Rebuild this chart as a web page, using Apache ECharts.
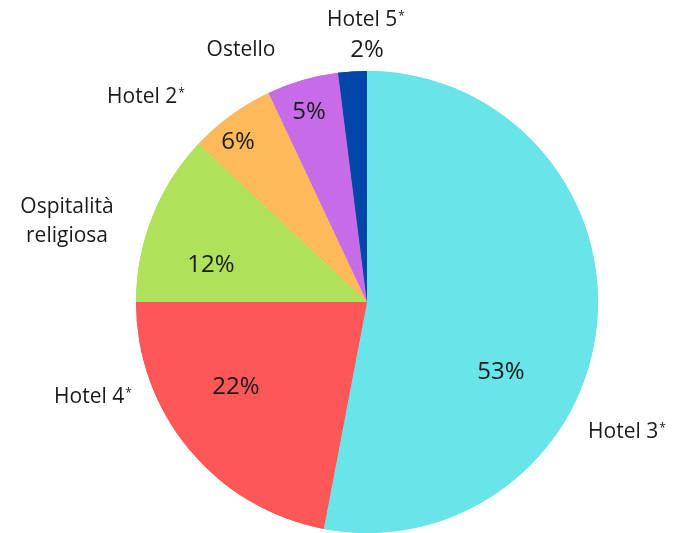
<!DOCTYPE html>
<html>
<head>
<meta charset="utf-8">
<script src="https://cdn.jsdelivr.net/npm/echarts@6/dist/echarts.min.js"></script>
<style>
  html, body { margin: 0; padding: 0; background: #fff; }
</style>
</head>
<body>
<div id="chart" style="width: 673px;height:533px;"></div>
<script>
// tipologie di struttura e quote (%)
var categories = ["Hotel 3", "Hotel 4", "Ospitalità\nreligiosa", "Hotel 2", "Ostello", "Hotel 5"];
var starred = [true, true, false, true, false, true];
var shares = [53, 22, 12, 6, 5, 2];
var colors = ["#69e4e8", "#fe5757", "#b0e15a", "#feba5a", "#c86be8", "#0046a9"];

// label anchors (layout only)
var pctPos = [[501, 372], [236, 387], [211, 265], [238, 142], [309, 112], [367, 50]];
var namePos = [[627, 432], [93, 397], [67, 222], [146, 97], [241, 50], [366, 20]];

var chart = echarts.init(document.getElementById("chart"));

var pieData = categories.map(function (c, i) {
  return { name: c, value: shares[i], itemStyle: { color: colors[i] } };
});

chart.setOption({
  animation: false,
  series: [
    {
      type: "pie",
      center: [367, 302],
      radius: 231,
      startAngle: 90,
      clockwise: true,
      silent: true,
      data: pieData,
      label: {
        show: true,
        position: "inside",
        fontFamily: "Open Sans",
        fontSize: 24,
        color: "#1a1a1a",
        formatter: function (p) { return p.value + "%"; }
      },
      labelLine: { show: false },
      labelLayout: function (p) {
        var pos = pctPos[p.dataIndex];
        return { x: pos[0], y: pos[1], align: "center", verticalAlign: "middle" };
      }
    },
    {
      type: "pie",
      center: [367, 302],
      radius: 231,
      startAngle: 90,
      clockwise: true,
      silent: true,
      data: pieData,
      label: {
        show: true,
        position: "outside",
        overflow: "none",
        fontFamily: "Open Sans",
        fontSize: 21,
        lineHeight: 29,
        color: "#1a1a1a",
        align: "center",
        formatter: function (p) {
          var i = p.dataIndex;
          return starred[i] ? "{n|" + categories[i] + "}{s|*}" : categories[i];
        },
        rich: {
          n: { fontFamily: "Open Sans", fontSize: 21, color: "#1a1a1a", lineHeight: 29 },
          s: { fontFamily: "Open Sans", fontSize: 12, color: "#1a1a1a", lineHeight: 12, verticalAlign: "top", padding: [5, 0, 0, 1] }
        }
      },
      labelLine: { show: false },
      labelLayout: function (p) {
        var pos = namePos[p.dataIndex];
        return { x: pos[0], y: pos[1], align: "center", verticalAlign: "middle" };
      }
    }
  ]
});
</script>
</body>
</html>
